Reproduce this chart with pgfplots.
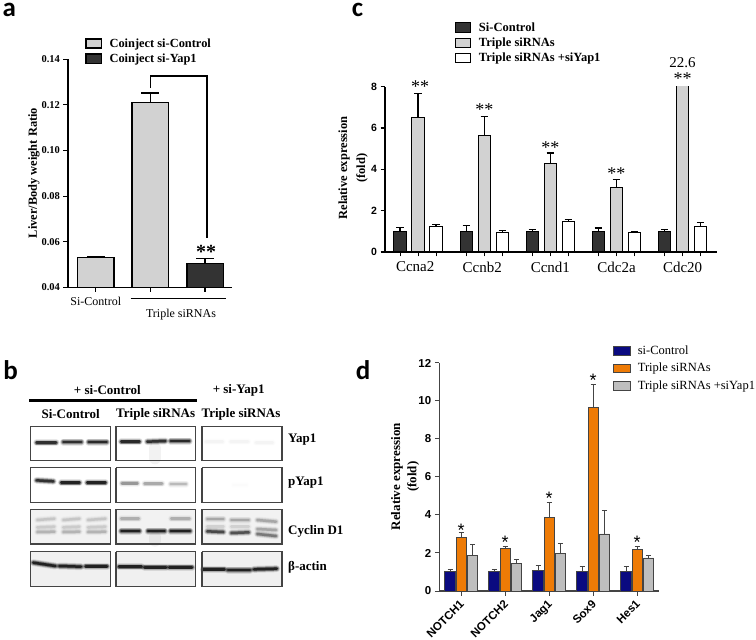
\documentclass[border=0pt]{standalone}
\usepackage{fontspec}
\setmainfont{Liberation Serif}
\newfontfamily\arial{Liberation Sans}
\newfontfamily\carlito{Carlito}
\usepackage{pgfplots}
\pgfplotsset{compat=1.18}
\definecolor{lightbar}{HTML}{D2D2D2}
\definecolor{darkbar}{HTML}{333333}
\definecolor{navybar}{HTML}{0A0A80}
\definecolor{orangebar}{HTML}{EE7B06}
\definecolor{graybar}{HTML}{BEBEBE}
\definecolor{dline}{HTML}{444444}
\newcommand\fs[2][]{\fontsize{#2bp}{#2bp}\selectfont}
\newcommand\panel[3]{\node[anchor=base west,inner sep=0pt,font={\carlito\bfseries\fontsize{27bp}{27bp}\selectfont}] at (#1bp,#2bp) {#3};}
% blot helpers, coordinates are in the crop's own units (3 per pixel)
\newcommand\blot[5]{\addplot[no markers,draw=none,fill=#5] coordinates {(#1,#3) (#2,#3) (#2,#4) (#1,#4) (#1,#3)};}
\newcommand\frm[4]{\addplot[no markers,draw=dline,line width=1.2bp] coordinates {(#1,#3) (#2,#3) (#2,#4) (#1,#4) (#1,#3)};}
\newcommand\band[5]{%
  \addplot[no markers,line cap=round,line width=7bp,black,opacity={0.10*#5}] coordinates {(#1,#3) (#2,#4)};
  \addplot[no markers,line cap=round,line width=5.5bp,black,opacity={0.20*#5}] coordinates {(#1,#3) (#2,#4)};
  \addplot[no markers,line cap=round,line width=4bp,black,opacity={0.35*#5}] coordinates {(#1,#3) (#2,#4)};
  \addplot[no markers,line cap=round,line width=2.5bp,black,opacity={0.7*#5}] coordinates {(#1,#3) (#2,#4)};}
\pgfplotsset{
  chart/.style={
    scale only axis,clip mode=individual,
    axis x line*=bottom,axis y line*=left,
    axis line style={-,line width=1.2bp},
    tick style={line width=1.1bp,black},
    tick align=outside,major tick length=4.5bp,
    /pgf/number format/assume math mode=true,
    legend cell align=left,
    legend style={draw=none,fill=none,inner sep=0pt,outer sep=0pt},
  },
  swatch/.style={
    legend image code/.code={\draw[##1] (0bp,-4.7bp) rectangle (15.5bp,4.7bp); \path (0bp,0bp) (21bp,0bp);},
  },
}
\begin{document}
\begin{tikzpicture}
\path[use as bounding box] (0bp,0bp) rectangle (756bp,640bp);

% panel a
\begin{axis}[chart,
  at={(68bp,352.7bp)},anchor=south west,width=164bp,height=228bp,
  ybar=0pt,bar width=36.5bp,swatch,
  xmin=-0.509,xmax=2.494,ymin=0.04,ymax=0.14,
  ytick={0.04,0.06,0.08,0.10,0.12,0.14},
  yticklabel style={font={\bfseries\fs{10.5}},/pgf/number format/fixed,/pgf/number format/fixed zerofill,/pgf/number format/precision=2},
  xtick={0,1,2},xticklabels={Si-Control,{},{}},
  xticklabel style={font=\fs{12},yshift=-2bp},
  ylabel={Liver/Body weight Ratio},
  ylabel style={at={(axis description cs:-0.207,0.501)},anchor=center,font={\bfseries\fs{12.4}}},
  legend style={at={(0.104,1.10)},anchor=north west,font={\bfseries\fs{12.4}},row sep=1bp},
]
\addplot[bar shift=0pt,fill=lightbar,draw=black,line width=1.5bp,
  error bars/.cd,y dir=plus,y explicit,
  error bar style={line width=1.3bp,black},error mark options={rotate=90,mark size=9bp,line width=1.2bp,black}]
  coordinates {(0,0.053) +- (0,0.0005) (1,0.121) +- (0,0.0042)};
\addplot[bar shift=0pt,fill=darkbar,draw=black,line width=1.5bp,
  error bars/.cd,y dir=plus,y explicit,
  error bar style={line width=1.3bp,black},error mark options={rotate=90,mark size=9bp,line width=1.2bp,black}]
  coordinates {(2,0.0505) +- (0,0.002)};
\legend{Coinject si-Control,Coinject si-Yap1}
\draw[line width=1.4bp] (axis cs:1.005,0.1274) -- (axis cs:1.005,0.1327) -- (axis cs:2.037,0.1327) -- (axis cs:2.037,0.0618);
\node[font={\bfseries\fs{20}}] at (axis cs:2.02,0.0555) {**};
\draw[line width=1.3bp] (axis cs:0.639,0.035) -- (axis cs:2.385,0.035);
\node[font=\fs{12}] at (axis cs:1.56,0.0279) {Triple siRNAs};
\end{axis}

% panel c
\begin{axis}[chart,
  at={(385bp,388bp)},anchor=south west,width=331.7bp,height=165.3bp,
  ybar=5.5bp,bar width=12.5bp,swatch,
  xmin=-0.502,xmax=4.516,ymin=0,ymax=8,
  ytick={0,2,4,6,8},
  yticklabel style={font={\arial\bfseries\fs{10.5}}},
  xtick={-0.272,0,0.272,0.728,1,1.272,1.728,2,2.272,2.728,3,3.272,3.728,4,4.272},
  xticklabels={,\hspace*{-6bp}Ccna2,,,\hspace*{-4bp}Ccnb2,,,Ccnd1,,,Cdc2a,,,\raisebox{-2bp}{Cdc20},},
  xticklabel style={font=\fs{15},yshift=-2bp},
  ylabel={Relative expression\\(fold)},
  ylabel style={at={(axis description cs:-0.0965,0.508)},anchor=center,align=center,font={\bfseries\fontsize{12.5bp}{18bp}\selectfont}},
  legend style={at={(0.211,1.40)},anchor=north west,font={\bfseries\fs{12.5}},row sep=1bp},
  error bars/error bar style={line width=1.4bp,black},
  error bars/error mark options={rotate=90,mark size=3.75bp,line width=1.1bp,black},
]
\addplot[fill=darkbar,draw=black,line width=1bp,error bars/.cd,y dir=plus,y explicit]
  coordinates {(0,1) +- (0,0.18) (1,1) +- (0,0.30) (2,1) +- (0,0.10) (3,1) +- (0,0.16) (4,1) +- (0,0.10)};
\addplot[fill=lightbar,draw=black,line width=1bp,error bars/.cd,y dir=plus,y explicit]
  coordinates {(0,6.52) +- (0,1.13) (1,5.63) +- (0,0.93) (2,4.29) +- (0,0.50) (3,3.13) +- (0,0.39) (4,22.6) +- (0,0)};
\addplot[fill=white,draw=black,line width=1bp,error bars/.cd,y dir=plus,y explicit]
  coordinates {(0,1.24) +- (0,0.11) (1,0.95) +- (0,0.11) (2,1.47) +- (0,0.09) (3,0.94) +- (0,0.04) (4,1.24) +- (0,0.18)};
\legend{Si-Control,Triple siRNAs,Triple siRNAs +siYap1}
\node[font=\fs{18}] at (axis cs:0.03,7.98) {**};
\node[font=\fs{18}] at (axis cs:1,6.87) {**};
\node[font=\fs{18}] at (axis cs:2,5.04) {**};
\node[font=\fs{18}] at (axis cs:3,3.8) {**};
\node[font=\fs{18}] at (axis cs:4,8.37) {**};
\node[font=\fs{15}] at (axis cs:4,9.16) {22.6};
\end{axis}

% panel d
\begin{axis}[chart,
  at={(439.3bp,49bp)},anchor=south west,width=219.7bp,height=228bp,
  ybar=0.9bp,bar width=10.3bp,
  axis line style={-,line width=1.2bp,dline},
  tick style={line width=1bp,dline},
  xmin=-0.498,xmax=4.495,ymin=0,ymax=12,
  ytick={0,2,4,6,8,10,12},
  yticklabel style={font={\arial\bfseries\fs{11.5}}},
  xtick={0,1,2,3,4},
  xticklabels={NOTCH1,NOTCH2,Jag1,Sox9,Hes1},
  xticklabel style={font={\arial\bfseries\fs{11.5}},rotate=45,anchor=north east,inner sep=1bp,xshift=-3bp},
  ylabel={Relative expression\\(fold)},
  ylabel style={at={(axis description cs:-0.156,0.501)},anchor=center,align=center,font={\bfseries\fontsize{13bp}{16.3bp}\selectfont}},
  legend style={at={(0.791,1.085)},anchor=north west,font=\fs{12.5},row sep=3.5bp},
  legend image code/.code={\draw[#1] (0bp,-4.3bp) rectangle (16.5bp,4.3bp); \path (0bp,0bp) (22bp,0bp);},
  error bars/error bar style={line width=0.8bp,dline},
  error bars/error mark options={rotate=90,mark size=2.5bp,line width=0.8bp,dline},
]
\addplot[fill=navybar,draw=dline,line width=0.8bp,error bars/.cd,y dir=plus,y explicit]
  coordinates {(0,1.02) +- (0,0.12) (1,1.02) +- (0,0.12) (2,1.07) +- (0,0.28) (3,1.05) +- (0,0.25) (4,1.05) +- (0,0.25)};
\addplot[fill=orangebar,draw=dline,line width=0.8bp,error bars/.cd,y dir=plus,y explicit]
  coordinates {(0,2.84) +- (0,0.23) (1,2.23) +- (0,0.14) (2,3.88) +- (0,0.80) (3,9.67) +- (0,1.21) (4,2.21) +- (0,0.12)};
\addplot[fill=graybar,draw=dline,line width=0.8bp,error bars/.cd,y dir=plus,y explicit]
  coordinates {(0,1.88) +- (0,0.58) (1,1.46) +- (0,0.21) (2,1.98) +- (0,0.53) (3,3.00) +- (0,1.26) (4,1.74) +- (0,0.14)};
\legend{si-Control,Triple siRNAs,Triple siRNAs +siYap1}
\node[font={\arial\fs{18}}] at (axis cs:0,3.2) {*};
\node[font={\arial\fs{18}}] at (axis cs:1,2.57) {*};
\node[font={\arial\fs{18}}] at (axis cs:2,4.89) {*};
\node[font={\arial\fs{18}}] at (axis cs:3,11.1) {*};
\node[font={\arial\fs{18}}] at (axis cs:4,2.55) {*};
\end{axis}

% panel b
\begin{axis}[
  at={(0bp,40bp)},anchor=south west,scale only axis,width=350bp,height=270bp,
  xmin=0,xmax=1050,ymin=0,ymax=810,y dir=reverse,hide axis,clip=false,
]
\addplot[no markers,black,line width=3bp] coordinates {(88,212) (592,212)};
\blot{91}{331}{538}{642}{black!5}
\blot{348}{586}{538}{642}{black!5}
\blot{606}{846}{538}{642}{black!5}
\blot{91}{331}{665}{769}{black!6}
\blot{348}{586}{665}{769}{black!6}
\blot{606}{846}{665}{769}{black!6}
% Yap1
\band{110}{168}{338}{338}{0.9}
\band{190}{244}{336}{336}{0.9}
\band{266}{320}{336}{336}{0.95}
\band{364}{418}{335}{335}{0.95}
\band{442}{496}{335}{333}{0.9}
\addplot[no markers,line cap=round,line width=12bp,black,opacity=0.05] coordinates {(465,355) (465,385)};
\band{512}{568}{333}{333}{0.95}
\band{618}{668}{335}{335}{0.03}
\band{692}{744}{335}{335}{0.03}
\band{768}{818}{338}{338}{0.03}
% pYap1
\band{110}{160}{451}{454}{0.9}
\band{184}{238}{458}{458}{1}
\band{262}{316}{458}{458}{1}
\band{366}{412}{460}{460}{0.35}
\band{434}{486}{461}{461}{0.28}
\band{512}{558}{462}{462}{0.22}
\band{700}{740}{465}{465}{0.01}
% Cyclin D1
\foreach \xa/\xb in {112/163,190/238,264/316} {
  \edef\tmp{\noexpand\band{\xa}{\xb}{570}{566}{0.14}
    \noexpand\band{\xa}{\xb}{592}{590}{0.12}
    \noexpand\band{\xa}{\xb}{606}{605}{0.2}}
  \tmp
}
\band{364}{416}{566}{566}{0.22}
\band{514}{568}{566}{566}{0.22}
\band{364}{418}{603}{603}{1}
\band{444}{494}{603}{603}{1}
\band{512}{570}{603}{603}{1}
\addplot[no markers,line cap=round,line width=12bp,black,opacity=0.05] coordinates {(465,622) (465,632)};
\band{622}{670}{567}{567}{0.25}
\band{694}{746}{570}{570}{0.25}
\band{772}{828}{570}{575}{0.25}
\band{622}{670}{590}{590}{0.1}
\band{694}{746}{590}{590}{0.1}
\band{772}{828}{597}{600}{0.25}
\band{622}{670}{604}{606}{0.7}
\band{694}{746}{609}{607}{0.65}
\band{772}{828}{612}{618}{0.45}
% actin
\band{100}{166}{698}{708}{1}
\band{178}{243}{708}{710}{1}
\band{257}{321}{709}{709}{1}
\band{357}{424}{710}{710}{1}
\band{434}{498}{712}{712}{1}
\band{508}{576}{712}{712}{1}
\band{610}{673}{718}{718}{1}
\band{684}{750}{720}{720}{1}
\band{762}{830}{718}{716}{1}
\frm{91}{331}{289}{391}
\frm{348}{586}{289}{391}
\frm{606}{846}{289}{391}
\frm{91}{331}{413}{517}
\frm{348}{586}{413}{517}
\frm{606}{846}{413}{517}
\frm{91}{331}{538}{642}
\frm{348}{586}{538}{642}
\frm{606}{846}{538}{642}
\frm{91}{331}{665}{769}
\frm{348}{586}{665}{769}
\frm{606}{846}{665}{769}
\node[font={\bfseries\fs{13}}] at (axis cs:322,180) {+ si-Control};
\node[font={\bfseries\fs{13}}] at (axis cs:716,180) {+ si-Yap1};
\node[font={\bfseries\fs{13}}] at (axis cs:212,252) {Si-Control};
\node[font={\bfseries\fs{13}}] at (axis cs:467,252) {Triple siRNAs};
\node[font={\bfseries\fs{13}}] at (axis cs:723,252) {Triple siRNAs};
\node[font={\bfseries\fs{13}},anchor=west,inner sep=0pt] at (axis cs:864,330) {Yap1};
\node[font={\bfseries\fs{13}},anchor=west,inner sep=0pt] at (axis cs:864,458) {pYap1};
\node[font={\bfseries\fs{13}},anchor=west,inner sep=0pt] at (axis cs:864,604) {Cyclin D1};
\node[font={\bfseries\fs{13}},anchor=west,inner sep=0pt] at (axis cs:864,712) {β-actin};
\end{axis}

\panel{2.5}{623.3}{a}
\panel{3.3}{260}{b}
\panel{351.7}{623.3}{c}
\panel{355.7}{260}{d}
\end{tikzpicture}
\end{document}
